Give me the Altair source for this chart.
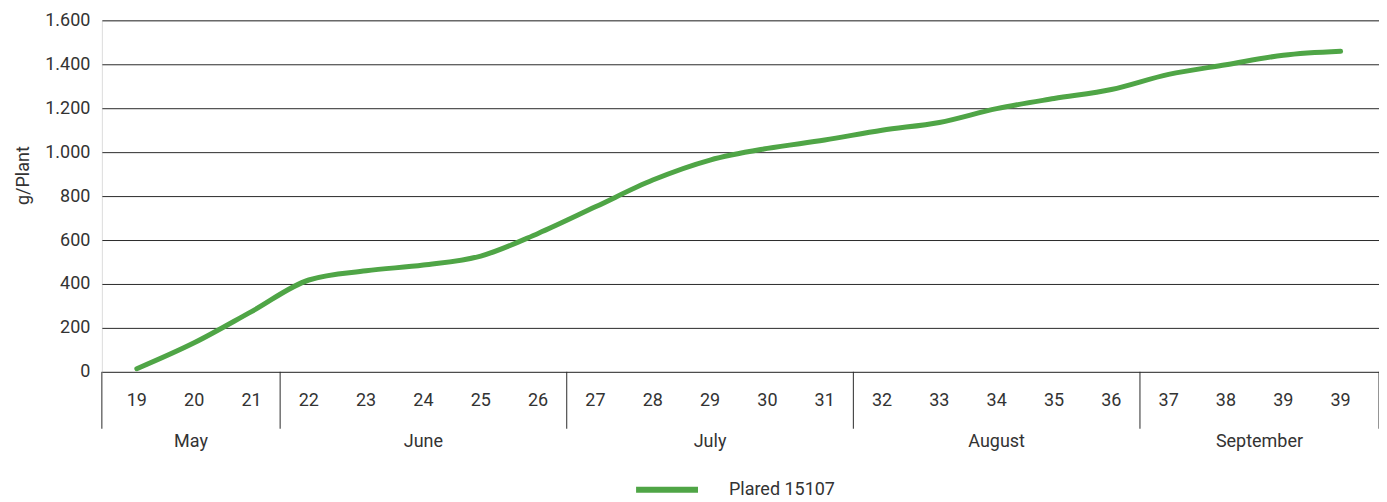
import altair as alt
import pandas as pd

# ---- data ----
weeks = ["19", "20", "21", "22", "23", "24", "25", "26", "27", "28", "29",
         "30", "31", "32", "33", "34", "35", "36", "37", "38", "39", "39"]
values = [14, 132, 274, 418, 460, 486, 527, 630, 751, 873, 964,
          1017, 1055, 1100, 1135, 1198, 1244, 1285, 1354, 1398, 1441, 1459]
months = ["May", "June", "July", "August", "September"]
month_sizes = [3, 5, 5, 5, 4]
series_name = "Plared 15107"
y_ticks = [0, 200, 400, 600, 800, 1000, 1200, 1400, 1600]

# ---- layout / style ----
W, H = 1279, 352
X_DOMAIN = [-0.61, 21.67]
GREEN = "#4fa546"
TEXT = "#333333"
GRID = "#2a2a2a"
FONT = "Roboto"
FS = 18

df = pd.DataFrame({
    "idx": list(range(len(weeks))),
    "week": weeks,
    "value": values,
    "series": [series_name] * len(weeks),
})

bounds = [X_DOMAIN[0]]
pos = 0
for s in month_sizes:
    pos += s
    bounds.append(pos - 0.5)
bounds[-1] = X_DOMAIN[1]
month_df = pd.DataFrame({
    "month": months,
    "center": [(bounds[i] + bounds[i + 1]) / 2 for i in range(len(months))],
})
bound_df = pd.DataFrame({"b": bounds})

x_scale = alt.Scale(domain=X_DOMAIN, nice=False, zero=False)

line = alt.Chart(df).mark_line(
    interpolate="monotone", strokeWidth=5, strokeCap="round"
).encode(
    x=alt.X("idx:Q", scale=x_scale, axis=None),
    y=alt.Y(
        "value:Q",
        scale=alt.Scale(domain=[0, 1600], nice=False),
        axis=alt.Axis(
            values=y_ticks,
            grid=True,
            gridColor=GRID,
            gridWidth=1,
            gridOpacity=1,
            domain=False,
            ticks=False,
            labelExpr="replace(format(datum.value, ','), ',', '.')",
            labelFontSize=FS,
            labelColor=TEXT,
            labelFont=FONT,
            labelPadding=12,
            title="g/Plant",
            titleFontSize=FS,
            titleFont=FONT,
            titleFontWeight="normal",
            titleColor=TEXT,
            titleX=-73,
            titleY=155,
            titleBaseline="alphabetic",
            titleAlign="center",
        ),
    ),
    color=alt.Color(
        "series:N",
        scale=alt.Scale(range=[GREEN]),
        legend=alt.Legend(
            orient="none",
            legendX=532,
            legendY=436,
            title=None,
            padding=0,
            symbolType="stroke",
            symbolSize=3844,
            symbolStrokeWidth=6,
            symbolStrokeColor=GREEN,
            labelFontSize=FS,
            labelFont=FONT,
            labelColor=TEXT,
            labelOffset=28,
        ),
    ),
)

sep = alt.Chart(bound_df).mark_rule(color=GRID, strokeWidth=1).encode(
    x=alt.X("b:Q", scale=x_scale, axis=None),
    y=alt.value(H),
    y2=alt.value(H + 57),
)

week_text = alt.Chart(df).mark_text(
    fontSize=FS, font=FONT, color=TEXT, baseline="middle", align="center"
).encode(
    x=alt.X("idx:Q", scale=x_scale, axis=None),
    y=alt.value(381),
    text="week:N",
)

month_text = alt.Chart(month_df).mark_text(
    fontSize=FS, font=FONT, color=TEXT, baseline="middle", align="center"
).encode(
    x=alt.X("center:Q", scale=x_scale, axis=None),
    y=alt.value(422),
    text="month:N",
)

chart = alt.layer(line, sep, week_text, month_text).properties(
    width=W,
    height=H,
    autosize=alt.AutoSizeParams(type="none"),
    padding={"left": 94, "top": 12, "right": 0, "bottom": 126},
).configure_view(stroke=None).configure(font=FONT)

chart.save("out.html", embed_options={"renderer": "svg", "actions": False})
